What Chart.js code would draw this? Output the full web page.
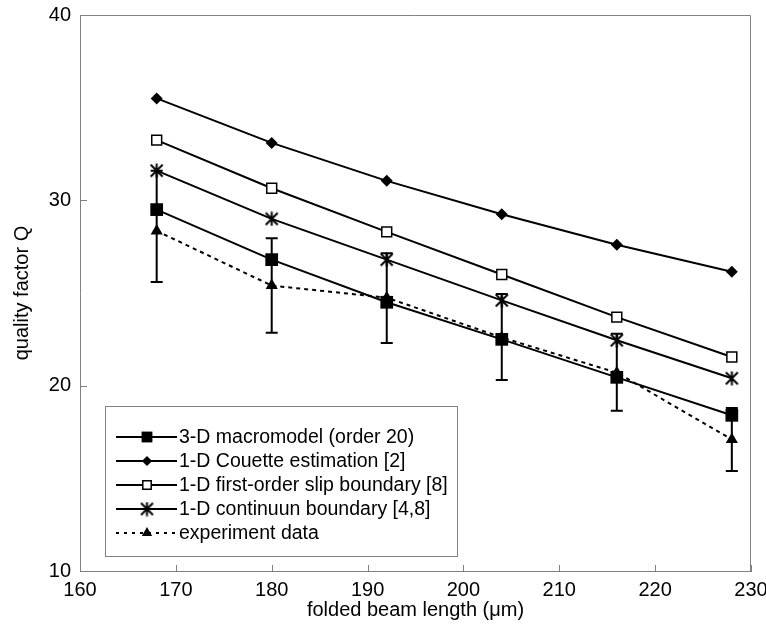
<!DOCTYPE html>
<html lang="en">
  <head>
    <meta charset="utf-8" />
    <title>Quality factor vs folded beam length</title>
    <style>
      * {
        margin: 0;
        padding: 0;
      }
      body {
        background: white;
      }
      .chartBox {
        width: 766px;
        height: 635px;
      }
    </style>
  </head>
  <body>
    <div class="chartBox">
      <canvas id="myChart"></canvas>
    </div>

    <script src="https://cdn.jsdelivr.net/npm/chart.js"></script>

    <script>
      const beamLengths = [168, 180, 192, 204, 216, 228];
      const macromodel = [29.5, 26.8, 24.5, 22.5, 20.45, 18.4];
      const couette = [35.5, 33.1, 31.05, 29.25, 27.6, 26.15];
      const slipBoundary = [33.25, 30.65, 28.3, 26.0, 23.7, 21.55];
      const continuum = [31.6, 29.0, 26.8, 24.6, 22.45, 20.4];
      const experiment = [28.35, 25.4, 24.75, 22.6, 20.7, 17.1];
      const experimentHigh = [31.6, 27.95, 27.15, 24.95, 22.8, 18.8];
      const experimentLow = [25.6, 22.85, 22.3, 20.3, 18.65, 15.4];
      const xTicks = [160, 170, 180, 190, 200, 210, 220, 230];
      const yTicks = [10, 20, 30, 40];

      const FONT = "'Liberation Sans', Arial, sans-serif";
      const AXIS_GREY = "#808080";

      // asterisk marker: X with a vertical stroke
      const star = document.createElement("canvas");
      star.width = 15;
      star.height = 15;
      (function () {
        const c = star.getContext("2d");
        c.strokeStyle = "#000";
        c.lineWidth = 2;
        c.beginPath();
        c.moveTo(1.5, 1.5);
        c.lineTo(13.5, 13.5);
        c.moveTo(13.5, 1.5);
        c.lineTo(1.5, 13.5);
        c.moveTo(7.5, 0.5);
        c.lineTo(7.5, 14.5);
        c.stroke();
      })();

      const toPoints = (vals) => vals.map((v, i) => ({ x: beamLengths[i], y: v }));

      const data = {
        datasets: [
          {
            label: "3-D macromodel (order 20)",
            data: toPoints(macromodel),
            borderColor: "#000",
            borderWidth: 2,
            pointStyle: "rect",
            pointRadius: 9,
            pointBackgroundColor: "#000",
            pointBorderWidth: 0,
          },
          {
            label: "1-D Couette estimation [2]",
            data: toPoints(couette),
            borderColor: "#000",
            borderWidth: 2,
            pointStyle: "rectRot",
            pointRadius: 6,
            pointBackgroundColor: "#000",
            pointBorderWidth: 0,
          },
          {
            label: "1-D first-order slip boundary [8]",
            data: toPoints(slipBoundary),
            borderColor: "#000",
            borderWidth: 2,
            pointStyle: "rect",
            pointRadius: 7,
            pointBackgroundColor: "#fff",
            pointBorderColor: "#000",
            pointBorderWidth: 1.5,
          },
          {
            label: "1-D continuun boundary [4,8]",
            data: toPoints(continuum),
            borderColor: "#000",
            borderWidth: 2,
            pointStyle: star,
            pointRadius: 7,
            pointBorderWidth: 0,
          },
          {
            label: "experiment data",
            data: toPoints(experiment),
            borderColor: "#000",
            borderWidth: 2,
            borderDash: [4, 4],
            pointStyle: "triangle",
            pointRadius: 7,
            pointBackgroundColor: "#000",
            pointBorderWidth: 0,
          },
        ],
      };

      // frame, inward ticks and error bars
      const frameAndErrors = {
        id: "frameAndErrors",
        beforeDatasetsDraw(chart) {
          const {
            ctx,
            chartArea: { top, bottom, left, right },
            scales: { x, y },
          } = chart;
          ctx.save();
          ctx.strokeStyle = AXIS_GREY;
          ctx.lineWidth = 1;
          ctx.beginPath();
          ctx.moveTo(left, top + 0.5);
          ctx.lineTo(right - 0.5, top + 0.5);
          ctx.lineTo(right - 0.5, bottom);
          xTicks.forEach((v) => {
            const px = Math.round(x.getPixelForValue(v)) + 0.5;
            ctx.moveTo(px, bottom);
            ctx.lineTo(px, bottom - 6);
          });
          yTicks.forEach((v) => {
            const py = Math.round(y.getPixelForValue(v)) + 0.5;
            ctx.moveTo(left, py);
            ctx.lineTo(left + 7, py);
          });
          ctx.stroke();

          ctx.strokeStyle = "#000";
          ctx.lineWidth = 2;
          ctx.beginPath();
          beamLengths.forEach((len, i) => {
            const px = x.getPixelForValue(len);
            const hi = y.getPixelForValue(experimentHigh[i]);
            const lo = y.getPixelForValue(experimentLow[i]);
            ctx.moveTo(px, hi);
            ctx.lineTo(px, lo);
            ctx.moveTo(px - 6, hi);
            ctx.lineTo(px + 6, hi);
            ctx.moveTo(px - 6, lo);
            ctx.lineTo(px + 6, lo);
          });
          ctx.stroke();
          ctx.restore();
        },
      };

      // boxed legend inside the plot
      const boxLegend = {
        id: "boxLegend",
        afterDraw(chart) {
          const { ctx } = chart;
          const bx = 105.5, by = 406.5, bw = 352, bh = 150;
          ctx.save();
          ctx.fillStyle = "#fff";
          ctx.fillRect(bx, by, bw, bh);
          ctx.strokeStyle = AXIS_GREY;
          ctx.lineWidth = 1;
          ctx.strokeRect(bx, by, bw, bh);

          ctx.font = "19.5px " + FONT;
          ctx.textBaseline = "middle";
          ctx.textAlign = "left";
          chart.data.datasets.forEach((ds, i) => {
            const ry = 437 + i * 24;
            ctx.strokeStyle = "#000";
            ctx.lineWidth = 2;
            ctx.setLineDash(ds.borderDash ? [3, 5] : []);
            ctx.beginPath();
            ctx.moveTo(116, ry);
            ctx.lineTo(177, ry);
            ctx.stroke();
            ctx.setLineDash([]);

            ctx.fillStyle = ds.pointBackgroundColor || "#000";
            ctx.strokeStyle = ds.pointBorderColor || "#000";
            ctx.lineWidth = ds.pointBorderWidth || 0;
            Chart.helpers.drawPoint(
              ctx,
              {
                pointStyle: ds.pointStyle,
                radius: ds.pointRadius * 0.85,
                rotation: 0,
                borderWidth: ds.pointBorderWidth || 0,
              },
              147,
              ry
            );

            ctx.fillStyle = "#000";
            ctx.fillText(ds.label, 179, ry + 1);
          });
          ctx.restore();
        },
      };

      const config = {
        type: "line",
        data: data,
        options: {
          responsive: true,
          maintainAspectRatio: false,
          animation: false,
          events: [],
          layout: {
            padding: { top: 15, right: 15, left: 0, bottom: 0 },
          },
          plugins: {
            legend: { display: false },
            tooltip: { enabled: false },
          },
          scales: {
            x: {
              type: "linear",
              min: 160,
              max: 230,
              grid: { display: false, drawTicks: false, tickLength: 0 },
              border: { color: AXIS_GREY, width: 1 },
              ticks: {
                stepSize: 10,
                padding: 7,
                color: "#000",
                font: { size: 20, family: FONT },
              },
              title: {
                display: true,
                text: "folded beam length (μm)",
                color: "#000",
                font: { size: 20, family: FONT },
                padding: { top: 0, bottom: 13 },
              },
              afterFit(scale) {
                scale.height = 64;
                scale.paddingLeft = 0;
                scale.paddingRight = 0;
              },
            },
            y: {
              type: "linear",
              min: 10,
              max: 40,
              grid: { display: false, drawTicks: false, tickLength: 0 },
              border: { color: AXIS_GREY, width: 1 },
              ticks: {
                stepSize: 10,
                padding: 9,
                color: "#000",
                font: { size: 20, family: FONT },
              },
              title: {
                display: true,
                text: "quality factor Q",
                color: "#000",
                font: { size: 20, family: FONT },
                padding: { top: 10, bottom: 0 },
              },
              afterFit(scale) {
                scale.width = 80;
                scale.paddingTop = 0;
                scale.paddingBottom = 0;
              },
            },
          },
        },
        plugins: [frameAndErrors, boxLegend],
      };

      const myChart = new Chart(document.getElementById("myChart"), config);
    </script>
  </body>
</html>
